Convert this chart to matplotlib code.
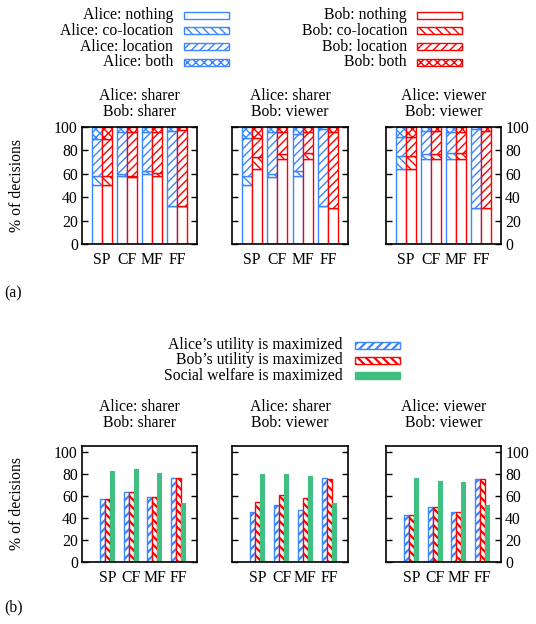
import numpy as np
import matplotlib
matplotlib.use("Agg")
import matplotlib.pyplot as plt
from matplotlib.patches import Rectangle

plt.rcParams['font.family'] = ['Liberation Serif', 'DejaVu Serif']
plt.rcParams['font.size'] = 11
plt.rcParams['hatch.linewidth'] = 1.0

categories = ["SP", "CF", "MF", "FF"]
titles = [("Alice: sharer", "Bob: sharer"),
          ("Alice: sharer", "Bob: viewer"),
          ("Alice: viewer", "Bob: viewer")]
yticks = [0, 20, 40, 60, 80, 100]

# (a) segment percentages per category: [nothing, co-location, location, both]
alice_a = [
    [[50, 8, 32, 10], [58, 2, 36, 4], [60, 2, 34, 4], [32.5, 0, 64.5, 3]],
    [[50, 8.5, 32, 9.5], [57, 3, 36, 4], [58, 4, 32, 6], [32.5, 0, 65.5, 2]],
    [[64, 11.5, 16, 8.5], [73, 4, 20, 3], [73, 5, 18, 4], [31, 0, 67, 2]],
]
bob_a = [
    [[50, 8, 32, 10], [57, 1.5, 37.5, 4], [58, 3, 35, 4], [32.5, 0, 65, 2.5]],
    [[64, 10, 16.5, 9.5], [73, 4, 19, 4], [72.5, 5, 18.5, 4], [30.5, 0, 65, 4.5]],
    [[64, 11.5, 16, 8.5], [73, 4, 20, 3], [73, 5, 18, 4], [31, 0, 66, 3]],
]
seg_names = ["nothing", "co-location", "location", "both"]

# (b)
alice_b = [[56.6, 63, 58.4, 75.6], [45, 52, 46.7, 75.6], [42.2, 49.4, 44.9, 74.7]]
bob_b = [[56.6, 63, 58.4, 75.6], [54.2, 61, 57.5, 74.7], [42.2, 49.4, 44.9, 74.7]]
social_b = [[82.8, 84.6, 81, 53], [79.5, 79.5, 77.7, 53], [75.6, 72.9, 72, 52]]

BLUE = "#3a86ff"
RED = "#ff0000"
GREEN = "#40c080"
hatches = ["", "\\\\\\\\", "////", "xxxx"]

W, H = 536, 624
fig = plt.figure(figsize=(W / 100, H / 100), dpi=100)

def px_axes(x0, y0, x1, y1):
    return fig.add_axes([x0 / W, 1 - y1 / H, (x1 - x0) / W, (y1 - y0) / H])

top_x = [(82, 197), (232, 348), (386, 501)]
top_y = (127, 244)
bot_y = (446, 562)
fs = 11.3

def style(ax, i, ylim):
    ax.set_ylim(*ylim)
    ax.set_yticks(yticks)
    ax.tick_params(axis='y', direction='in', length=4, width=1,
                   left=True, right=True,
                   labelleft=(i == 0), labelright=(i == 2), labelsize=fs, pad=3)
    ax.tick_params(axis='x', length=0, labelsize=fs, pad=6)
    for s in ax.spines.values():
        s.set_linewidth(1.2)

x = np.arange(len(categories))

# ---- (a)
for i in range(3):
    ax = px_axes(top_x[i][0], top_y[0], top_x[i][1], top_y[1])
    for person, data, off, col in [("Alice", alice_a[i], -0.2, BLUE), ("Bob", bob_a[i], 0.2, RED)]:
        arr = np.array(data, dtype=float)
        bottoms = np.zeros(len(categories))
        for k in range(4):
            ax.bar(x + off, arr[:, k], 0.4, bottom=bottoms, facecolor="white",
                   edgecolor=col, hatch=hatches[k], linewidth=1.0)
            bottoms += arr[:, k]
    ax.set_xlim(-0.78, 3.78)
    ax.set_xticks(x)
    ax.set_xticklabels(categories)
    style(ax, i, (0, 100))

# ---- (b)
with plt.rc_context({'hatch.linewidth': 1.6}):
    for i in range(3):
        ax = px_axes(top_x[i][0], bot_y[0], top_x[i][1], bot_y[1])
        ax.bar(x - 0.21, alice_b[i], 0.21, facecolor="white", edgecolor=BLUE,
               hatch="////", linewidth=1.0)
        ax.bar(x, bob_b[i], 0.21, facecolor="white", edgecolor=RED,
               hatch="\\\\\\\\", linewidth=1.0)
        ax.bar(x + 0.21, social_b[i], 0.21, color=GREEN, linewidth=0)
        ax.set_xlim(-1.07, 3.78)
        ax.set_xticks(x)
        ax.set_xticklabels(categories)
        style(ax, i, (0, 105))

# ---- overlay for legends and titles
ov = fig.add_axes([0, 0, 1, 1], facecolor="none")
ov.set_xlim(0, W)
ov.set_ylim(H, 0)
ov.axis("off")

for k, name in enumerate(seg_names):
    yc = 15 + k * 15.8
    ov.text(173, yc, f"Alice: {name}", ha="right", va="center", fontsize=fs)
    ov.add_patch(Rectangle((183.5, yc - 3.5), 45, 7, facecolor="white",
                           edgecolor=BLUE, hatch=hatches[k], linewidth=1.0))
    ov.text(407, yc, f"Bob: {name}", ha="right", va="center", fontsize=fs)
    ov.add_patch(Rectangle((416.5, yc - 3.5), 45, 7, facecolor="white",
                           edgecolor=RED, hatch=hatches[k], linewidth=1.0))

with plt.rc_context({'hatch.linewidth': 1.6}):
    leg_b = [("Alice\u2019s utility is maximized", dict(facecolor="white", edgecolor=BLUE, hatch="////")),
             ("Bob\u2019s utility is maximized", dict(facecolor="white", edgecolor=RED, hatch="\\\\\\\\")),
             ("Social welfare is maximized", dict(facecolor=GREEN, edgecolor=GREEN))]
    for k, (lab, kw) in enumerate(leg_b):
        yc = 345 + k * 15.3
        ov.text(343, yc, lab, ha="right", va="center", fontsize=fs)
        ov.add_patch(Rectangle((354.5, yc - 3.5), 45, 7, linewidth=1.0, **kw))

for i in range(3):
    cx = (top_x[i][0] + top_x[i][1]) / 2
    ov.text(cx, 96, titles[i][0], ha="center", va="center", fontsize=fs)
    ov.text(cx, 112, titles[i][1], ha="center", va="center", fontsize=fs)
    ov.text(cx, 407, titles[i][0], ha="center", va="center", fontsize=fs)
    ov.text(cx, 423, titles[i][1], ha="center", va="center", fontsize=fs)

ov.text(17, 185, "% of decisions", rotation=90, ha="center", va="center", fontsize=fs)
ov.text(17, 504, "% of decisions", rotation=90, ha="center", va="center", fontsize=fs)
ov.text(4, 293, "(a)", ha="left", va="center", fontsize=fs)
ov.text(4, 607, "(b)", ha="left", va="center", fontsize=fs)

fig.savefig("out.png", dpi=100)
